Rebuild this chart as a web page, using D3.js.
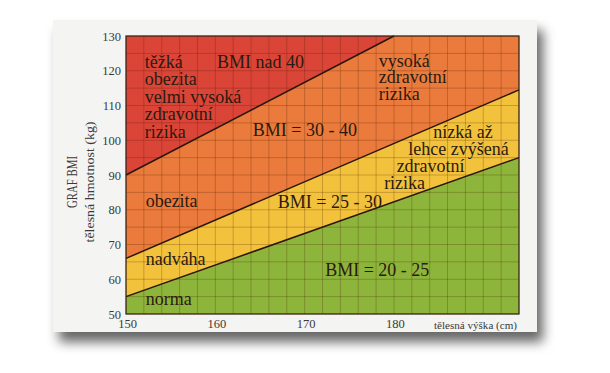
<!DOCTYPE html>
<html>
<head>
<meta charset="utf-8">
<script src="https://cdn.jsdelivr.net/npm/d3@7"></script>
<style>
  html, body { margin: 0; padding: 0; background: #fff; }
  svg { display: block; }
</style>
</head>
<body>
<svg id="chart" width="610" height="373"></svg>
<script>
// data
var yTicks = [50, 60, 70, 80, 90, 100, 110, 120, 130];
var xTicks = [150, 160, 170, 180];
var bmi40Line = [{h: 150, w: 90}, {h: 180, w: 130}];
var bmi30Line = [{h: 150, w: 66}, {h: 194, w: 114.5}];
var bmi25Line = [{h: 150, w: 55}, {h: 194, w: 95}];
var zoneNames = ['nad 40', '30 - 40', '25 - 30', '20 - 25'];
var zoneColors = ['#db4538', '#ea7b3c', '#f3c23c', '#8eb53b'];
// g = block of lines drawn as one text
var labels = [
  {g: 1, t: 'těžká', h: 152.1, w: 122.5},
  {g: 1, t: 'obezita', h: 152.1, w: 117.5},
  {g: 1, t: 'velmi vysoká', h: 152.1, w: 112.4},
  {g: 1, t: 'zdravotní', h: 152.1, w: 107.4},
  {g: 1, t: 'rizika', h: 152.1, w: 102.4},
  {g: 2, t: 'BMI nad 40', h: 160.2, w: 122.5},
  {g: 3, t: 'vysoká', h: 178.3, w: 122.8},
  {g: 3, t: 'zdravotní', h: 178.3, w: 118.1},
  {g: 3, t: 'rizika', h: 178.3, w: 113.3},
  {g: 4, t: 'BMI = 30 - 40', h: 164.2, w: 103.0},
  {g: 5, t: 'nízká až', h: 184.4, w: 102.4},
  {g: 5, t: 'lehce zvýšená', h: 181.6, w: 97.5},
  {g: 5, t: 'zdravotní', h: 180.3, w: 92.6},
  {g: 5, t: 'rizika', h: 178.9, w: 87.7},
  {g: 6, t: 'obezita', h: 152.2, w: 82.5},
  {g: 7, t: 'BMI = 25 - 30', h: 167.0, w: 82.2},
  {g: 8, t: 'nadváha', h: 152.2, w: 65.8},
  {g: 9, t: 'BMI = 20 - 25', h: 172.3, w: 62.7},
  {g: 10, t: 'norma', h: 152.2, w: 54.3}
];

var SERIF = '"Liberation Serif", "Times New Roman", serif';
var svg = d3.select('#chart');
var hMin = 150, hMax = 194, wMin = 50, wMax = 130;

var x = d3.scaleLinear().domain([hMin, hMax]).range([126, 519]);
var y = d3.scaleLinear().domain([wMin, wMax]).range([314, 36]);

// card with shadow
var defs = svg.append('defs');
var f = defs.append('filter').attr('id', 'shadow')
	.attr('x', '-10%').attr('y', '-10%').attr('width', '130%').attr('height', '140%');
f.append('feDropShadow').attr('dx', 6).attr('dy', 10).attr('stdDeviation', 6)
	.attr('flood-color', '#000').attr('flood-opacity', 0.6);

svg.append('rect')
	.attr('x', 53).attr('y', 20).attr('width', 484).attr('height', 312)
	.style('fill', '#f4f4f2')
	.attr('filter', 'url(#shadow)');

// zones
var a = bmi40Line, b = bmi30Line, c = bmi25Line;
var zones = [
  [[a[0].h, a[0].w], [a[1].h, a[1].w], [hMin, wMax]],
  [[b[0].h, b[0].w], [b[1].h, b[1].w], [hMax, wMax], [a[1].h, a[1].w], [a[0].h, a[0].w]],
  [[c[0].h, c[0].w], [c[1].h, c[1].w], [b[1].h, b[1].w], [b[0].h, b[0].w]],
  [[hMin, wMin], [hMax, wMin], [c[1].h, c[1].w], [c[0].h, c[0].w]]
];
var line = d3.line().x(function(d){ return x(d[0]); }).y(function(d){ return y(d[1]); });

var plot = svg.append('g');
plot.selectAll('path.zone').data(zones).enter().append('path')
	.attr('class', 'zone')
	.attr('d', function(d){ return line(d) + 'Z'; })
	.style('fill', function(d, i){ return zoneColors[i]; })
	.append('title').text(function(d, i){ return 'BMI ' + zoneNames[i]; });

// grid
plot.selectAll('line.gx').data(d3.range(hMin, hMax + 0.1, 2)).enter().append('line')
	.attr('x1', function(d){ return x(d); }).attr('x2', function(d){ return x(d); })
	.attr('y1', y(wMin)).attr('y2', y(wMax))
	.style('stroke', 'rgba(70,25,0,0.28)').style('stroke-width', 0.9);
plot.selectAll('line.gy').data(d3.range(wMin, wMax + 0.1, 5)).enter().append('line')
	.attr('y1', function(d){ return y(d); }).attr('y2', function(d){ return y(d); })
	.attr('x1', x(hMin)).attr('x2', x(hMax))
	.style('stroke', 'rgba(70,25,0,0.28)').style('stroke-width', 0.9);

// BMI boundary lines
var pl = d3.line().x(function(d){ return x(d.h); }).y(function(d){ return y(d.w); });
[bmi40Line, bmi30Line, bmi25Line].forEach(function(l){
	plot.append('path').attr('d', pl(l))
		.style('fill', 'none').style('stroke', '#2a160c').style('stroke-width', 1.5);
});

plot.append('rect')
	.attr('x', x(hMin)).attr('y', y(wMax))
	.attr('width', x(hMax) - x(hMin)).attr('height', y(wMin) - y(wMax))
	.style('fill', 'none').style('stroke', '#3a2418').style('stroke-width', 1.2);

// labels, one text per block
var blocks = d3.groups(labels, function(d){ return d.g; });
var bt = plot.selectAll('text.lbl').data(blocks).enter().append('text')
	.attr('class', 'lbl')
	.style('font-family', SERIF).style('font-size', '18px').style('fill', '#2b1a10');
bt.selectAll('tspan').data(function(d){ return d[1]; }).enter().append('tspan')
	.attr('x', function(d){ return x(d.h); })
	.attr('y', function(d){ return y(d.w); })
	.attr('dy', '0.32em')
	.text(function(d){ return d.t; });

// axes
var ya = svg.append('g').attr('transform', 'translate(' + (x(hMin) - 5) + ',0)')
	.call(d3.axisLeft(y).tickValues(yTicks).tickSize(0).tickPadding(0));
ya.select('.domain').remove();

var xa = svg.append('g').attr('transform', 'translate(1,' + (y(wMin) + 5) + ')')
	.call(d3.axisBottom(x).tickValues(xTicks).tickSize(0).tickPadding(0));
xa.select('.domain').remove();
svg.selectAll('.tick text')
	.style('font-family', SERIF).style('font-size', '12.5px').style('fill', '#3a3a3a');

// axis titles
svg.append('text')
	.attr('transform', 'translate(77,182) rotate(-90)')
	.attr('text-anchor', 'middle')
	.attr('textLength', 52).attr('lengthAdjust', 'spacingAndGlyphs')
	.style('font-family', SERIF).style('font-size', '15px').style('fill', '#3a3a3a')
	.text('GRAF BMI');
svg.append('text')
	.attr('transform', 'translate(94,182) rotate(-90)')
	.attr('text-anchor', 'middle')
	.attr('textLength', 121).attr('lengthAdjust', 'spacingAndGlyphs')
	.style('font-family', SERIF).style('font-size', '12px').style('fill', '#3a3a3a')
	.text('tělesná hmotnost  (kg)');
svg.append('text')
	.attr('x', 517).attr('y', 329)
	.attr('text-anchor', 'end')
	.attr('textLength', 83).attr('lengthAdjust', 'spacingAndGlyphs')
	.style('font-family', SERIF).style('font-size', '10.5px').style('fill', '#3a3a3a')
	.text('tělesná výška (cm)');
</script>
</body>
</html>
